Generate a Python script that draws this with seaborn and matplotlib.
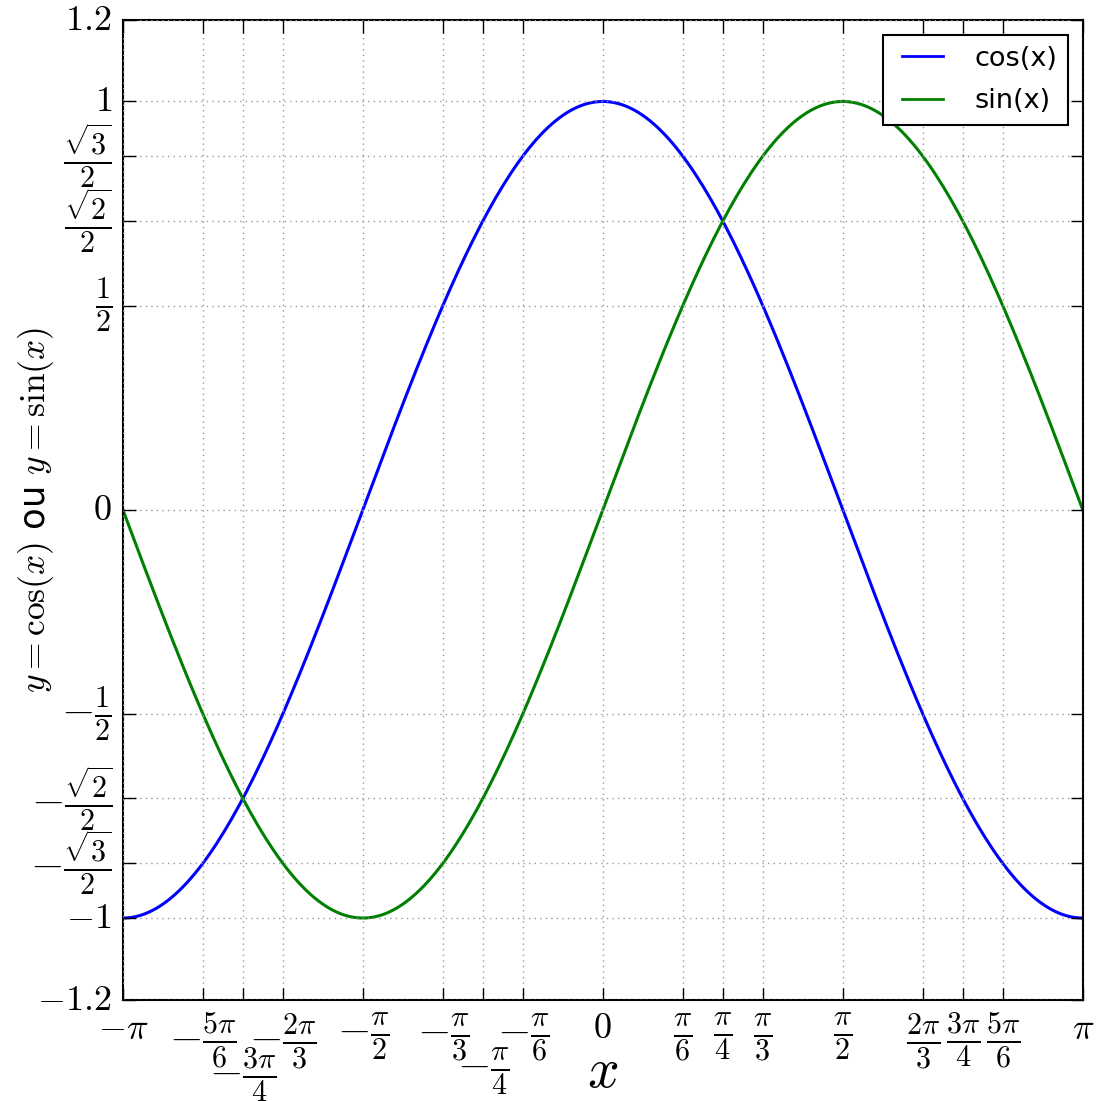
import numpy as np
import pandas as pd
import matplotlib
matplotlib.use("Agg")
import matplotlib.pyplot as plt
import seaborn as sns

plt.style.use("classic")
plt.rcParams["mathtext.fontset"] = "cm"
plt.rcParams["font.family"] = ["DejaVu Sans"]

# Data: the two plotted functions on [-pi, pi]
x_values = np.linspace(-np.pi, np.pi, 256)
cos_values = np.cos(x_values)
sin_values = np.sin(x_values)
series_names = ["cos(x)", "sin(x)"]
series_colors = ["blue", "green"]

x_tick_fracs = [-1, -5/6, -3/4, -2/3, -1/2, -1/3, -1/4, -1/6, 0,
                1/6, 1/4, 1/3, 1/2, 2/3, 3/4, 5/6, 1]
x_tick_labels = [r"$-\pi$", r"$-\frac{5\pi}{6}$", r"$-\frac{3\pi}{4}$",
                 r"$-\frac{2\pi}{3}$", r"$-\frac{\pi}{2}$", r"$-\frac{\pi}{3}$",
                 r"$-\frac{\pi}{4}$", r"$-\frac{\pi}{6}$", r"$0$",
                 r"$\frac{\pi}{6}$", r"$\frac{\pi}{4}$", r"$\frac{\pi}{3}$",
                 r"$\frac{\pi}{2}$", r"$\frac{2\pi}{3}$", r"$\frac{3\pi}{4}$",
                 r"$\frac{5\pi}{6}$", r"$\pi$"]
y_tick_values = [-1.2, -1, -np.sqrt(3)/2, -np.sqrt(2)/2, -0.5, 0,
                 0.5, np.sqrt(2)/2, np.sqrt(3)/2, 1, 1.2]
y_tick_labels = [r"$-1.2$", r"$-1$", r"$-\frac{\sqrt{3}}{2}$",
                 r"$-\frac{\sqrt{2}}{2}$", r"$-\frac{1}{2}$", r"$0$",
                 r"$\frac{1}{2}$", r"$\frac{\sqrt{2}}{2}$",
                 r"$\frac{\sqrt{3}}{2}$", r"$1$", r"$1.2$"]

df = pd.DataFrame({
    "x": np.concatenate([x_values, x_values]),
    "y": np.concatenate([cos_values, sin_values]),
    "f": [series_names[0]] * len(x_values) + [series_names[1]] * len(x_values),
})

fig = plt.figure(figsize=(10.97, 11.01), dpi=100, facecolor="white")
ax = fig.add_axes([0.112, 0.092, 0.875, 0.890])

sns.lineplot(data=df, x="x", y="y", hue="f", palette=series_colors,
             linewidth=2.2, ax=ax, legend=False)

ax.set_xlim(-np.pi, np.pi)
ax.set_ylim(-1.2, 1.2)
ax.set_xticks([f * np.pi for f in x_tick_fracs])
ax.set_xticklabels(x_tick_labels)
ax.set_yticks(y_tick_values)
ax.set_yticklabels(y_tick_labels)
for lab in ax.get_xticklabels() + ax.get_yticklabels():
    lab.set_fontsize(31 if "frac" in lab.get_text() else 26)
ax.tick_params(direction="in", length=9, width=1, top=True, right=True)
ax.tick_params(axis="x", pad=8)
ax.tick_params(axis="y", pad=8)

ticks = ax.xaxis.get_major_ticks()
for i in (2, 6):
    ticks[i].set_pad(33)

ax.grid(True, color="0.6", linestyle=":", linewidth=1)
for s in ax.spines.values():
    s.set_linewidth(1.5)

ax.set_xlabel(r"$x$", fontsize=40)
ax.xaxis.set_label_coords(0.5, -0.074)
ax.xaxis.label.set_verticalalignment("center")
ax.set_ylabel(r"$y=\cos(x)$ ou $y=\sin(x)$", fontsize=25.5)
ax.yaxis.set_label_coords(-0.09, 0.5)
ax.yaxis.label.set_verticalalignment("center")

handles = [plt.Line2D([], [], color=c, linewidth=2) for c in series_colors]
leg = ax.legend(handles, series_names, loc="upper right", fontsize=19.5,
                handlelength=2.1, handletextpad=0.85, borderaxespad=0.55,
                labelspacing=0.62, borderpad=0.4,
                fancybox=False, framealpha=1)
leg.get_frame().set_edgecolor("black")
leg.get_frame().set_linewidth(1.5)

fig.savefig("out.png", dpi=100, facecolor="white")
